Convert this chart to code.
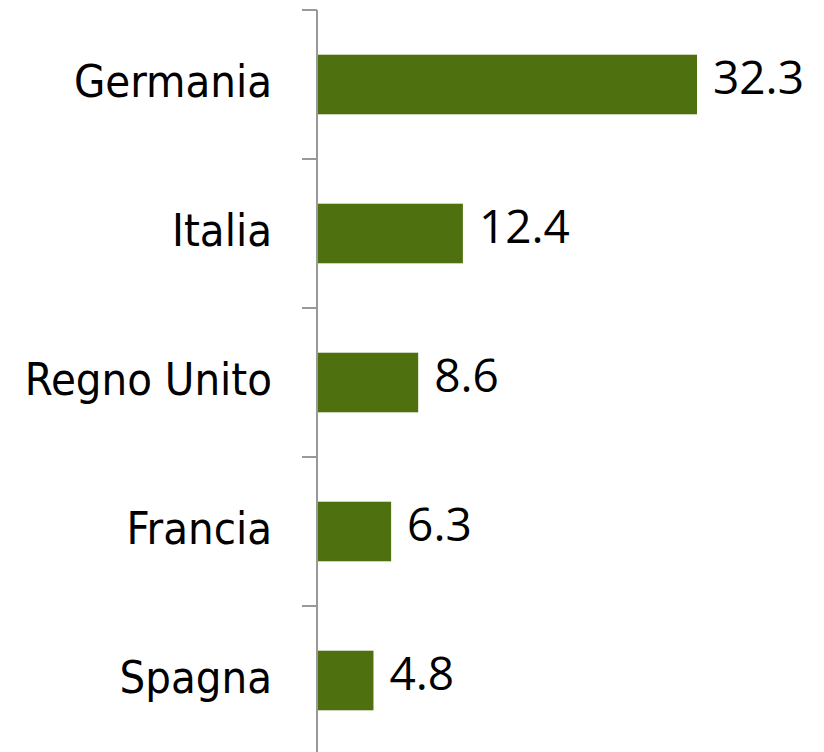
<!DOCTYPE html>
<html>
<head>
<meta charset="utf-8">
<script src="https://cdn.jsdelivr.net/npm/d3@7"></script>
<style>
  body { margin: 0; background: #fff; }
</style>
</head>
<body>
<div id="chart"></div>
<script>
const countries = ["Germania", "Italia", "Regno Unito", "Francia", "Spagna"];
const values = [32.3, 12.4, 8.6, 6.3, 4.8];

const width = 824;
const height = 752;
const marginTop = 10;
const marginLeft = 317;

const data = countries.map((c, i) => ({ country: c, value: values[i] }));

const x = d3
  .scaleLinear()
  .domain([0, 32.3])
  .range([marginLeft, 697]);

const y = d3
  .scaleBand()
  .domain(countries)
  .range([marginTop, marginTop + 149 * countries.length])
  .paddingInner(0.6)
  .paddingOuter(0.3);

const svg = d3
  .create("svg")
  .attr("width", width)
  .attr("height", height)
  .attr("viewBox", [0, 0, width, height]);

// bars
svg
  .append("g")
  .selectAll("rect")
  .data(data)
  .join("rect")
  .attr("x", x(0))
  .attr("y", (d) => y(d.country))
  .attr("width", (d) => x(d.value) - x(0))
  .attr("height", y.bandwidth())
  .attr("fill", "#4f700f");

// axis line with ticks at band boundaries
const boundaries = countries
  .map((c) => y(c) - y.step() * 0.3)
  .concat([marginTop + 149 * countries.length]);
const axis = svg.append("g");
axis
  .append("line")
  .attr("x1", marginLeft)
  .attr("x2", marginLeft)
  .attr("y1", marginTop)
  .attr("y2", height)
  .attr("stroke", "#999")
  .attr("stroke-width", 2);
axis
  .selectAll(".tick")
  .data(boundaries)
  .join("line")
  .attr("class", "tick")
  .attr("x1", marginLeft - 15)
  .attr("x2", marginLeft)
  .attr("y1", (d) => d)
  .attr("y2", (d) => d)
  .attr("stroke", "#999")
  .attr("stroke-width", 2);

// category labels
svg
  .append("g")
  .selectAll("text")
  .data(data)
  .join("text")
  .attr("x", marginLeft - 45)
  .attr("y", (d) => y(d.country) + y.bandwidth() / 2)
  .attr("dy", "0.28em")
  .attr("text-anchor", "end")
  .attr("font-family", "'DejaVu Sans Condensed', 'Liberation Sans Narrow', sans-serif")
  .attr("font-size", 45)
  .attr("fill", "#000")
  .text((d) => d.country);

// value labels
svg
  .append("g")
  .selectAll("text")
  .data(data)
  .join("text")
  .attr("x", (d) => x(d.value) + 16)
  .attr("y", (d) => y(d.country) + y.bandwidth() / 2)
  .attr("dy", "0.2em")
  .attr("font-family", "'Open Sans', sans-serif")
  .attr("font-weight", 500)
  .attr("font-size", 46)
  .attr("fill", "#000")
  .text((d) => d.value.toFixed(1));

document.getElementById("chart").append(svg.node());
</script>
</body>
</html>
